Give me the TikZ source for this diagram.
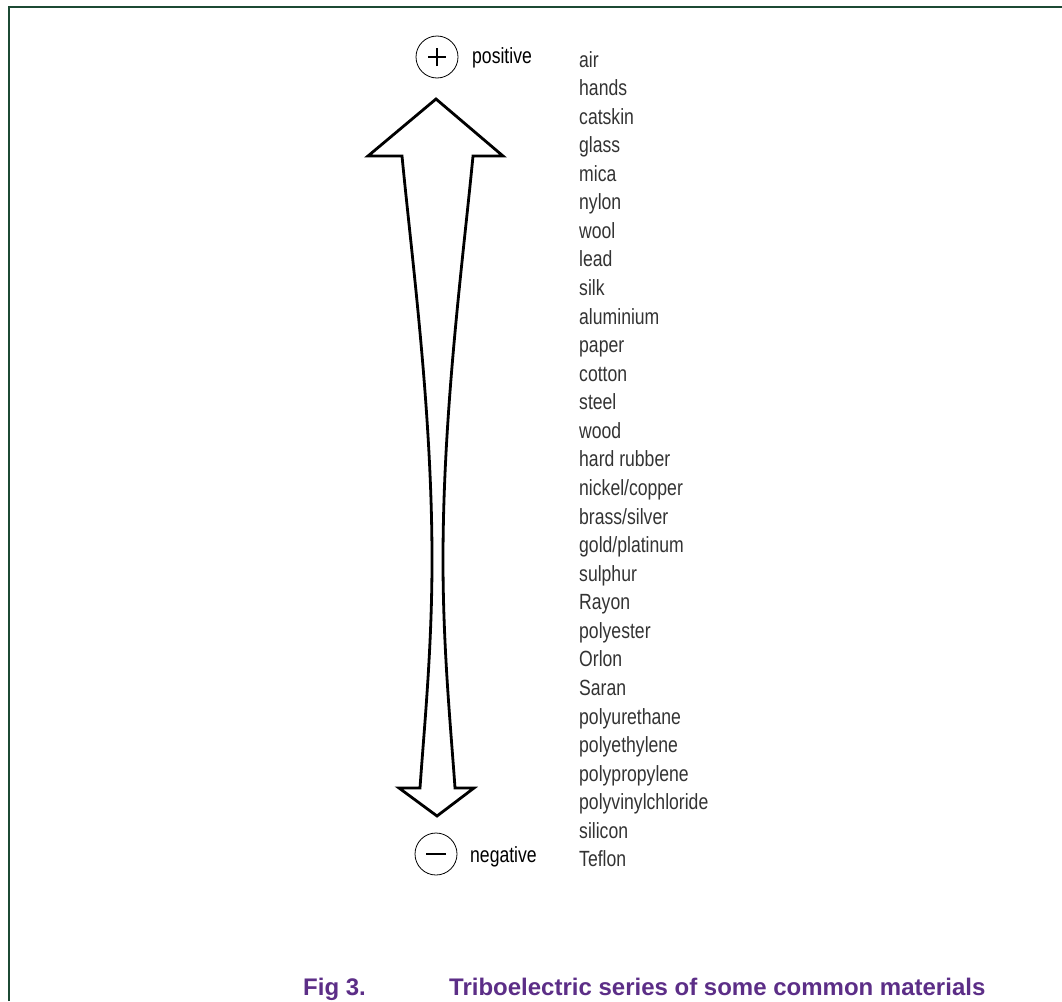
\documentclass[tikz,border=0pt]{standalone}
\usepackage{fontspec}
\setmainfont{Liberation Sans}
\newfontfamily\narrowfont{Liberation Sans}[FakeStretch=0.8]
\usetikzlibrary{positioning}
\definecolor{framegreen}{RGB}{28,74,52}
\definecolor{capviolet}{RGB}{92,46,135}

\begin{document}
\begin{tikzpicture}[x=1pt, y=-1pt,
  mat/.style ={anchor=base west, inner sep=0pt, text=black!80,
               font=\narrowfont\fontsize{22}{24}\selectfont},
  lbl/.style ={anchor=base west, inner sep=0pt,
               font=\narrowfont\fontsize{22}{24}\selectfont},
  pole/.style={draw, circle, minimum size=42pt, inner sep=0pt, line width=0.8pt},
  sgn/.style ={line width=2pt},
  figcap/.style={anchor=base west, inner sep=0pt, text=capviolet,
               font=\bfseries\fontsize{24}{26}\selectfont},
  bigarr/.style={line width=2.8pt, line join=miter},
]
\useasboundingbox (0,0) rectangle (1062,1001);
\draw[framegreen, line width=1.5pt] (9,1001) -- (9,7) -- (1062,7);

% poles
\node[pole] (plus)  at (437,57)  {};
\node[pole] (minus) at (436,854) {};
\draw[sgn] ([xshift=-9pt]plus.center) -- ([xshift=9pt]plus.center)
           ([yshift=-9pt]plus.center) -- ([yshift=9pt]plus.center);
\draw[sgn] ([xshift=-10pt]minus.center) -- ([xshift=10pt]minus.center);
\node[lbl] (pos) at (472,63)  {positive};
\node[lbl] (neg) at (470,862) {negative};

% double arrow with pinched shaft
\draw[bigarr] (436,99) -- (503,156) -- (473,156)
  .. controls (463,260) and (443,410) .. (443,560)
  .. controls (443,650) and (451,730) .. (455,788)
  -- (474,788) -- (437,816) -- (399,788) -- (420,788)
  .. controls (424,730) and (432,650) .. (432,560)
  .. controls (432,410) and (412,260) .. (402,156)
  -- (368,156) -- cycle;

% materials, most positive first
\foreach \m [count=\i from 0] in {air, hands, catskin, glass, mica, nylon,
    wool, lead, silk, aluminium, paper, cotton, steel, wood, hard rubber,
    nickel/copper, brass/silver, gold/platinum, sulphur, Rayon, polyester,
    Orlon, Saran, polyurethane, polyethylene, polypropylene,
    polyvinylchloride, silicon, Teflon}
  \node[mat] (m\i) at (579,67+28.57*\i) {\m};

\node[figcap] (fig)   at (303,995) {Fig 3.};
\node[figcap] (title) at (449,995) {Triboelectric series of some common materials};
\end{tikzpicture}
\end{document}
